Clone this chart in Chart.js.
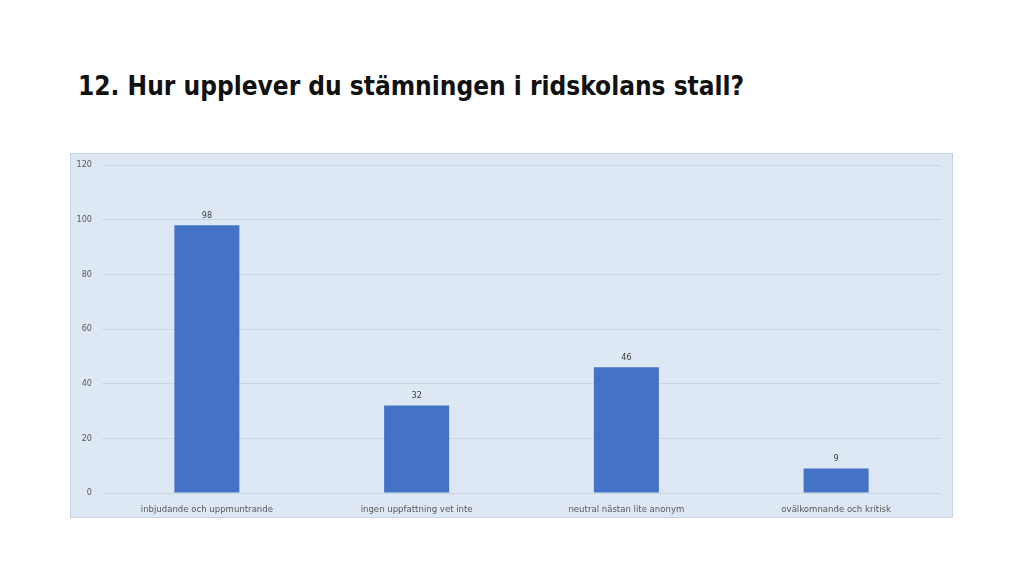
<!DOCTYPE html>
<html>
<head>
<meta charset="utf-8">
<script src="https://cdn.jsdelivr.net/npm/chart.js@4/dist/chart.umd.min.js"></script>
<style>
  html, body { margin: 0; padding: 0; background: #fff; }
  body { width: 1024px; height: 576px; position: relative; overflow: hidden; }
  #title {
    position: absolute; left: 78px; top: 71px;
    font-family: "DejaVu Sans Condensed", "Liberation Sans Narrow", sans-serif;
    font-size: 26px; font-weight: bold; color: #111; white-space: nowrap;
  }
  #panel {
    position: absolute; left: 70px; top: 153px; width: 881px; height: 363px;
    background: #dde8f4; border: 1px solid #c5d3e4;
  }
</style>
</head>
<body>
<div id="title">12. Hur upplever du stämningen i ridskolans stall?</div>
<div id="panel"><canvas id="chart" width="881" height="363"></canvas></div>
<script>
"use strict";

// ── data ──────────────────────────────────────────────────────────────────────
const CATEGORIES = [
  "inbjudande och uppmuntrande",
  "ingen uppfattning vet inte",
  "neutral nästan lite anonym",
  "ovälkomnande och kritisk",
];
const VALUES = [98, 32, 46, 9];
const Y_TICKS = [0, 20, 40, 60, 80, 100, 120];

const FONT = "'DejaVu Sans Condensed', 'Liberation Sans Narrow', sans-serif";

// ── value labels above bars ───────────────────────────────────────────────────
const valueLabels = {
  id: "valueLabels",
  afterDatasetsDraw(chart) {
    const { ctx } = chart;
    const meta = chart.getDatasetMeta(0);
    ctx.save();
    ctx.font = `9px ${FONT}`;
    ctx.fillStyle = "#404040";
    ctx.textAlign = "center";
    ctx.textBaseline = "bottom";
    meta.data.forEach((bar, i) => {
      ctx.fillText(String(VALUES[i]), bar.x, bar.y - 5);
    });
    ctx.restore();
  },
};

new Chart(document.getElementById("chart"), {
  type: "bar",
  data: {
    labels: CATEGORIES,
    datasets: [{
      data: VALUES,
      backgroundColor: "#4472c4",
      barPercentage: 0.31,
      categoryPercentage: 1,
    }],
  },
  options: {
    responsive: false,
    animation: false,
    layout: { padding: { left: 0, right: 11, top: 11, bottom: 0 } },
    plugins: { legend: { display: false }, tooltip: { enabled: false } },
    scales: {
      x: {
        grid: { display: false },
        border: { display: false },
        ticks: { color: "#595959", font: { family: FONT, size: 9.5 }, padding: 3, maxRotation: 0 },
        afterFit(s) { s.height = 24; s.paddingLeft = 0; s.paddingRight = 0; },
      },
      y: {
        min: 0, max: 120,
        afterBuildTicks(s) { s.ticks = Y_TICKS.map(v => ({ value: v })); },
        grid: { color: "#ccd6e3", drawTicks: false },
        border: { display: false },
        ticks: { color: "#595959", font: { family: FONT, size: 9 }, padding: 10 },
        afterFit(s) { s.width = 31; s.paddingTop = 0; s.paddingBottom = 0; },
      },
    },
  },
  plugins: [valueLabels],
});
</script>
</body>
</html>
